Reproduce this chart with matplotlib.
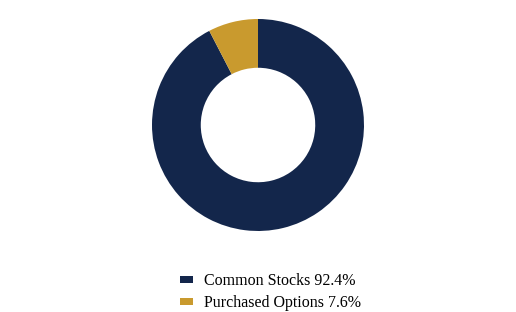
import matplotlib
matplotlib.use("Agg")
import matplotlib.pyplot as plt
from matplotlib.patches import Patch

# holdings breakdown
labels = ["Common Stocks", "Purchased Options"]
values = [92.4, 7.6]
colors = ["#13264B", "#C99A2E"]

plt.rcParams['font.family'] = ['Liberation Serif', 'DejaVu Serif']

fig = plt.figure(figsize=(5.16, 3.12), dpi=100)
ax = fig.add_axes([152 / 516, 81 / 312, 212 / 516, 212 / 312])

ax.pie(values, colors=colors, startangle=90, counterclock=False,
       radius=1.0, wedgeprops=dict(width=0.46, edgecolor='none'))
ax.set_xlim(-1, 1)
ax.set_ylim(-1, 1)
ax.set_aspect('equal')

handles = [Patch(facecolor=c, edgecolor='none', label=f"{l} {v}%")
           for l, v, c in zip(labels, values, colors)]
fig.legend(handles=handles, loc='center', bbox_to_anchor=(270.5 / 516, 1 - 292 / 312),
           frameon=False, fontsize=11.5, handlelength=0.8, handleheight=0.3,
           handletextpad=0.7, labelspacing=0.4)

fig.savefig("out.png", dpi=100)
